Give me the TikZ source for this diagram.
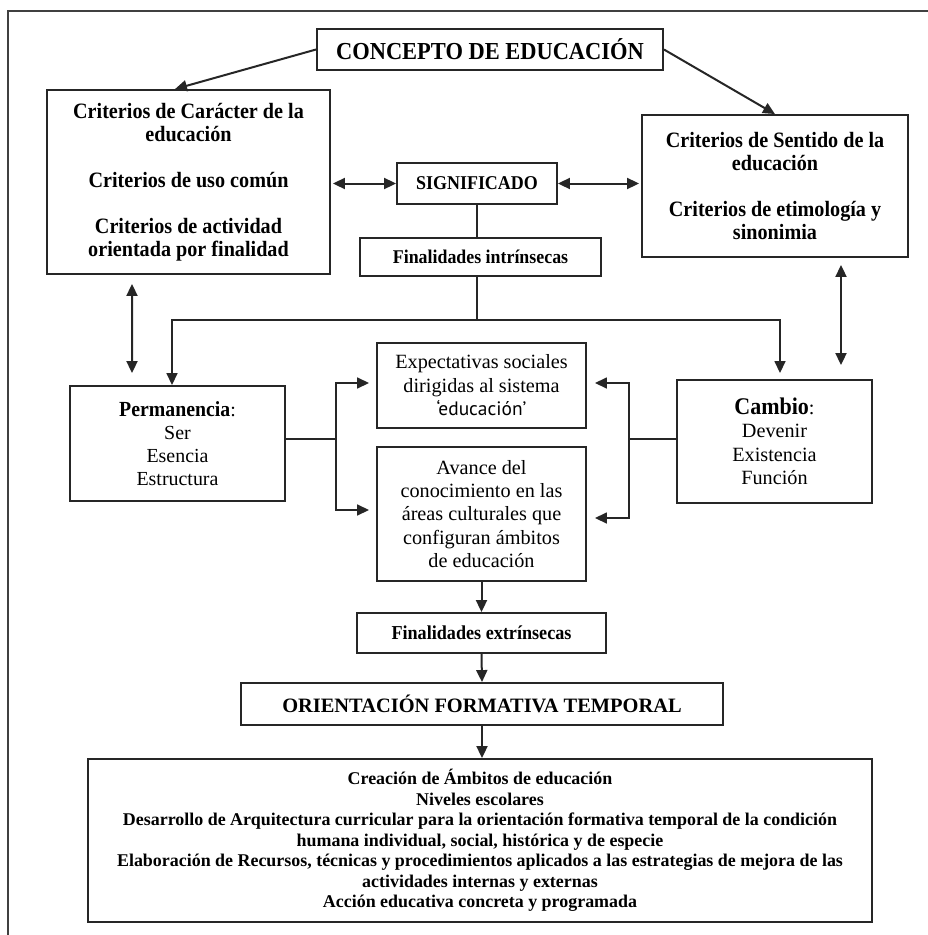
\documentclass[tikz,border=0pt]{standalone}
\usepackage{fontspec}
\setmainfont{Liberation Serif}[BoldFeatures={FakeStretch=0.92}]
\newfontfamily\plainserif{Liberation Serif}
\newfontfamily\quotefont{PT Sans}
\usetikzlibrary{arrows.meta,calc}
\begin{document}
\begin{tikzpicture}[x=1bp,y=-1bp,
 box/.style={draw=black!85, line width=1.9bp, rectangle, inner sep=0pt, align=center},
 arr/.style={draw=black!85, line width=2bp, -{Triangle[length=12bp,width=11bp]}},
 darr/.style={draw=black!85, line width=2bp, {Triangle[length=12bp,width=11bp]}-{Triangle[length=12bp,width=11bp]}},
 ln/.style={draw=black!85, line width=1.4bp},
]
\useasboundingbox (0,0) rectangle (928,935);
\draw[line width=1.4bp, black!75] (928,11) -- (8,11) -- (8,935);

\node[box, minimum width=346bp, minimum height=41bp, font=\fontsize{24.5}{28}\selectfont\bfseries] (concept) at (490,49.5) {CONCEPTO DE EDUCACIÓN};

\node[box, minimum width=283bp, minimum height=184bp, font=\fontsize{22}{23}\selectfont\bfseries] (crit1) at (188.5,182)
 {Criterios de Carácter de la\\ educación\\[23bp] Criterios de uso común\\[23bp] Criterios de actividad\\ orientada por finalidad};

\node[box, minimum width=266bp, minimum height=142bp, font=\fontsize{22}{23}\selectfont\bfseries] (crit2) at (775,186)
 {Criterios de Sentido de la\\ educación\\[23bp] Criterios de etimología y\\ sinonimia};

\node[box, minimum width=160bp, minimum height=41bp, font=\fontsize{19.6}{22}\selectfont\bfseries] (sig) at (477,183.5) {SIGNIFICADO};

\node[box, minimum width=241bp, minimum height=38bp, font=\fontsize{19.5}{22}\selectfont\bfseries] (finint) at (480.5,257) {Finalidades intrínsecas};

\node[box, minimum width=215bp, minimum height=115bp, font=\fontsize{20}{23}\selectfont] (perm) at (177.5,443.5)
 {{\fontsize{21.6}{23}\selectfont\bfseries Permanencia}:\\ Ser\\ Esencia\\ Estructura};

\node[box, minimum width=209bp, minimum height=85bp, font=\fontsize{20.3}{23.5}\selectfont] (expect) at (481.5,385.5)
 {Expectativas sociales\\ dirigidas al sistema\\ {\quotefont\fontsize{19.5}{23.5}\selectfont ‘educación’}};

\node[box, minimum width=209bp, minimum height=134bp, font=\fontsize{20.3}{23.5}\selectfont] (avance) at (481.5,514)
 {Avance del\\ conocimiento en las\\ áreas culturales que\\ configuran ámbitos\\ de educación};

\node[box, minimum width=195bp, minimum height=123bp, font=\fontsize{20.3}{23.5}\selectfont] (cambio) at (774.5,441.5)
 {{\fontsize{24}{24}\selectfont\bfseries Cambio}:\\ Devenir\\ Existencia\\ Función};

\node[box, minimum width=249bp, minimum height=40bp, font=\fontsize{19.8}{22}\selectfont\bfseries] (finext) at (481.5,633) {Finalidades extrínsecas};

\node[box, minimum width=482bp, minimum height=42bp, font=\plainserif\fontsize{20.5}{24}\selectfont\bfseries] (orient) at (482,704) {ORIENTACIÓN FORMATIVA TEMPORAL};

\node[box, minimum width=784bp, minimum height=163bp, font=\plainserif\fontsize{18}{20.5}\selectfont\bfseries] (bottom) at (480,840.5)
 {Creación de Ámbitos de educación\\ Niveles escolares\\
  Desarrollo de Arquitectura curricular para la orientación formativa temporal de la condición\\
  humana individual, social, histórica y de especie\\
  Elaboración de Recursos, técnicas y procedimientos aplicados a las estrategias de mejora de las\\
  actividades internas y externas\\ Acción educativa concreta y programada};

% connectors
\draw[arr] (concept.west) -- ([xshift=-13.5bp]crit1.north);
\draw[arr] (concept.east) -- (crit2.north);
\draw[darr, shorten <=2bp] (crit1.east |- sig.west) -- (sig.west);
\draw[darr, shorten >=2bp] (sig.east) -- (crit2.west |- sig.east);
\draw[ln] (sig.south) -- (sig.south |- finint.north);

\coordinate (jn) at ([yshift=-43bp]sig.south |- finint.south);
\draw[ln] (sig.south |- finint.south) -- (jn);
\draw[arr, line width=1.6bp] (jn) -| ([xshift=-5.5bp]perm.north);
\draw[arr, line width=1.6bp] (jn) -| ([xshift=5.5bp,yshift=6bp]cambio.north);

\draw[darr] ([xshift=-56.5bp,yshift=-9bp]crit1.south) -- ([xshift=-45.5bp,yshift=12bp]perm.north);
\draw[darr] ([xshift=66bp,yshift=-7bp]crit2.south) -- ([xshift=66.5bp,yshift=14bp]cambio.north);

\coordinate (pb) at ([xshift=50bp,yshift=4.5bp]perm.east);
\draw[ln] ([yshift=4.5bp]perm.east) -- (pb);
\draw[arr, line width=1.6bp] (pb) |- ([xshift=-7bp,yshift=2.5bp]expect.west);
\draw[arr, line width=1.6bp] (pb) |- ([xshift=-7bp,yshift=4bp]avance.west);

\coordinate (cb) at ([xshift=-47bp,yshift=2.5bp]cambio.west);
\draw[ln] ([yshift=2.5bp]cambio.west) -- (cb);
\draw[arr, line width=1.6bp] (cb) |- ([xshift=8bp,yshift=2.5bp]expect.east);
\draw[arr, line width=1.6bp] (cb) |- ([xshift=8bp,yshift=-4bp]avance.east);

\draw[arr] (avance.south) -- (finext.north);
\draw[arr] (finext.south) -- (orient.north);
\draw[arr] (orient.south) -- (orient.south |- bottom.north);
\end{tikzpicture}
\end{document}
